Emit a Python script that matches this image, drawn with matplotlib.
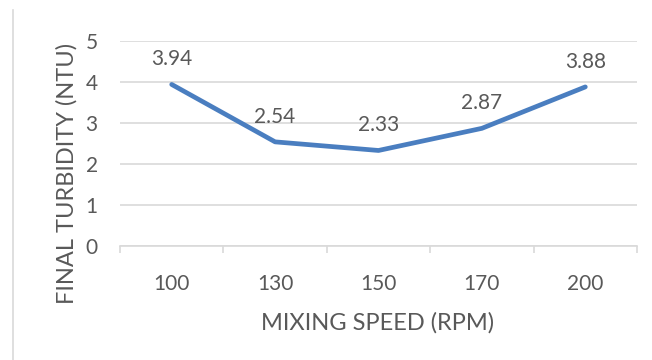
import matplotlib
matplotlib.use("Agg")
import matplotlib.pyplot as plt
from matplotlib.lines import Line2D

categories = ["100", "130", "150", "170", "200"]
turbidity = [3.94, 2.54, 2.33, 2.87, 3.88]
y_ticks = [0, 1, 2, 3, 4, 5]

plt.rcParams['font.family'] = ['Lato', 'DejaVu Sans']
txt = '#595959'
grid = '#D9D9D9'

fig = plt.figure(figsize=(6.52, 3.6), dpi=100)
W, H = 652, 360
ax = fig.add_axes([120 / W, 1 - 246 / H, (637 - 120) / W, (246 - 41) / H])

x = list(range(len(categories)))
ax.plot(x, turbidity, color='#4A7EC0', lw=3.4, solid_capstyle='round', solid_joinstyle='round', zorder=3)
for xi, v in zip(x, turbidity):
    ax.annotate(f"{v:.2f}", (xi, v), xytext=(0, 11), textcoords='offset points',
                ha='center', va='bottom', fontsize=15, color=txt)

ax.set_xlim(-0.5, len(categories) - 0.5)
ax.set_ylim(0, 5)
ax.set_yticks(y_ticks)
ax.set_yticklabels([str(t) for t in y_ticks])
ax.set_xticks(x)
ax.set_xticklabels(categories)
ax.set_xticks([i - 0.5 for i in range(len(categories) + 1)], minor=True)
ax.tick_params(axis='x', which='major', length=0, pad=20, labelsize=15, labelcolor=txt)
ax.tick_params(axis='x', which='minor', length=5, color=grid, width=1.2, direction='out')
ax.tick_params(axis='y', length=0, pad=16, labelsize=15, labelcolor=txt)
ax.grid(axis='y', color=grid, lw=1.2)
ax.set_axisbelow(True)
for s in ['top', 'right', 'left']:
    ax.spines[s].set_visible(False)
ax.spines['bottom'].set_color(grid)
ax.spines['bottom'].set_linewidth(1.2)

fig.text(67 / W, 1 - 173 / H, "FINAL TURBIDITY (NTU)", rotation=90, ha='center', va='center',
         fontsize=17, color=txt)
fig.text(377.5 / W, 1 - 323 / H, "MIXING SPEED (RPM)", ha='center', va='center',
         fontsize=17, color=txt)

fig.add_artist(Line2D([12.5 / W, 12.5 / W], [0, 1 - 10 / H], color=grid, lw=1.2))

fig.savefig("out.png", dpi=100)
